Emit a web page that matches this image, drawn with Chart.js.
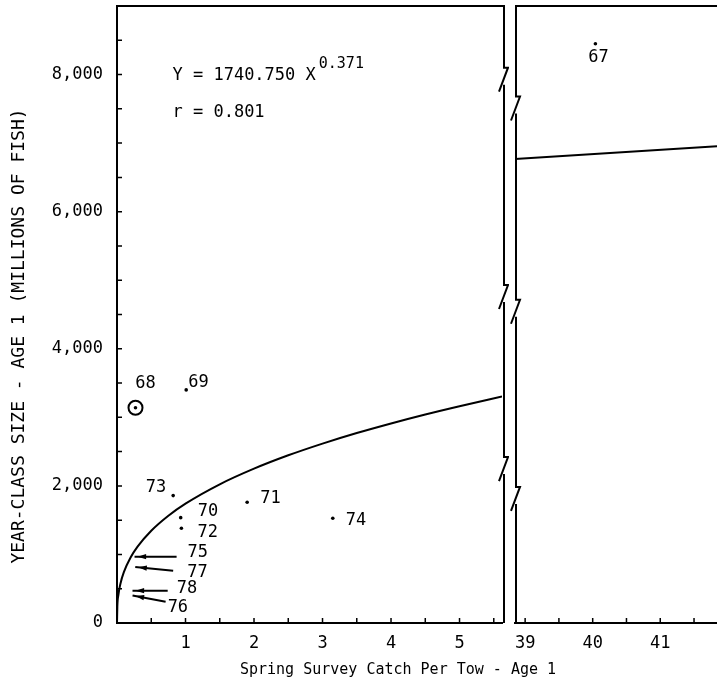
<!DOCTYPE html>
<html><head><meta charset="utf-8">
<script src="https://cdn.jsdelivr.net/npm/chart.js@4/dist/chart.umd.min.js"></script>
<style>
html,body{margin:0;padding:0;background:#fff;}
#wrap{position:relative;width:717px;height:687px;overflow:hidden;background:#fff;}
#c1{position:absolute;left:0;top:0;}
#c2{position:absolute;left:509px;top:0;}
#xt{position:absolute;left:0;width:796px;top:660px;text-align:center;font:15px "DejaVu Sans Mono",monospace;color:#000;white-space:nowrap;}
</style></head>
<body><div id="wrap">
<canvas id="c1" width="509" height="687"></canvas>
<canvas id="c2" width="208" height="687"></canvas>
<div id="xt">Spring Survey Catch Per Tow - Age 1</div>
</div>
<script>
// ---- data ----
const years         = ['67', '68', '69', '70', '71', '72', '73', '74'];
const catchPerTow   = [40.04, 0.27, 1.01, 0.93, 1.90, 0.94, 0.82, 3.15];
const yearClassSize = [8450, 3140, 3400, 1537, 1762, 1382, 1858, 1528];
const circledYears  = ['68'];

const arrowYears = ['75', '77', '78', '76'];
const arrowTailX = [0.87, 0.82, 0.74, 0.71];
const arrowHeadX = [0.30, 0.31, 0.27, 0.27];
const arrowTailY = [968, 763, 472, 311];
const arrowHeadY = [968, 813, 472, 394];

// fitted curve Y = 1740.750 X^0.371 as drawn
const fitX = [0, 0.005, 0.02, 0.05, 0.1, 0.2, 0.3, 0.5, 0.75, 1, 1.5, 2, 2.5, 3, 3.5, 4, 4.5, 5, 5.62];
const fitY = [0, 244, 408, 573, 741, 958, 1114, 1346, 1565, 1741, 2023, 2251, 2446, 2617, 2771, 2911, 3042, 3163, 3303];
const fitRightX = [38.85, 41.84];
const fitRightY = [6767, 6956];

const leftXRange  = [0, 5.62];
const rightXRange = [38.85, 41.84];
const yRange      = [0, 9000];
const yTickValues = [0, 2000, 4000, 6000, 8000];
const yTickLabels = ['0', '2,000', '4,000', '6,000', '8,000'];
const leftXTickValues  = [1, 2, 3, 4, 5];
const rightXTickValues = [39, 40, 41];

const equationText = 'Y = 1740.750 X';
const equationExp  = '0.371';
const rText        = 'r = 0.801';
const yTitle       = 'YEAR-CLASS SIZE - AGE 1 (MILLIONS OF FISH)';

// ---- styling ----
const FONT = '"DejaVu Sans Mono", monospace';
const labelStyle = {
  '67': {dx: 3,  dy: 14, align: 'center'},
  '68': {dx: 10, dy: -24, align: 'center'},
  '69': {dx: 2,  dy: -7, align: 'left'},
  '70': {dx: 17, dy: -6, align: 'left'},
  '71': {dx: 13, dy: -4, align: 'left'},
  '72': {dx: 16, dy: 4,  align: 'left'},
  '73': {dx: -7, dy: -8, align: 'right'},
  '74': {dx: 13, dy: 2,  align: 'left'}
};
const arrowLabelStyle = {
  '75': {dx: 11, dy: -4},
  '77': {dx: 14, dy: 2},
  '78': {dx: 9,  dy: -2},
  '76': {dx: 2,  dy: 6}
};
const leftBreaks  = [8100, 4930, 2420];
const rightBreaks = [7680, 4715, 1985];

function pts(xs, ys) { return xs.map((x, i) => ({x: x, y: ys[i]})); }
function inRange(x, r) { return x >= r[0] && x <= r[1]; }

function drawBrokenVertical(ctx, x, top, bottom, breaksPx) {
  const h = 24;
  const b = breaksPx.slice().sort((p, q) => p - q);
  ctx.beginPath();
  let y0 = top;
  b.forEach(yb => {
    ctx.moveTo(x, y0); ctx.lineTo(x, yb);
    ctx.moveTo(x - 1, yb); ctx.lineTo(x + 4, yb); ctx.lineTo(x - 5, yb + h);
    y0 = yb + h - 7;
  });
  ctx.moveTo(x, y0); ctx.lineTo(x, bottom);
  ctx.stroke();
}

function drawPointLabels(chart, range) {
  const {ctx, scales: {x: sx, y: sy}} = chart;
  ctx.font = '17px ' + FONT;
  ctx.fillStyle = '#000';
  ctx.textBaseline = 'middle';
  years.forEach((yr, i) => {
    if (!inRange(catchPerTow[i], range)) return;
    const st = labelStyle[yr];
    const px = sx.getPixelForValue(catchPerTow[i]);
    const py = sy.getPixelForValue(yearClassSize[i]);
    ctx.textAlign = st.align;
    ctx.fillText(yr, px + st.dx, py + st.dy);
  });
}

function drawInwardTicks(ctx, a, sx, sy, xStart, xEnd, yStart, yEnd, doY) {
  ctx.lineWidth = 1.5;
  ctx.beginPath();
  for (let v = xStart; v <= xEnd + 1e-9; v += 0.5) {
    const p = sx.getPixelForValue(v);
    if (p < a.left + 2 || p > a.right - 2) continue;
    ctx.moveTo(p, a.bottom); ctx.lineTo(p, a.bottom - 5);
  }
  if (doY) {
    for (let v = yStart; v <= yEnd; v += 500) {
      const p = sy.getPixelForValue(v);
      ctx.moveTo(a.left, p); ctx.lineTo(a.left + 5, p);
    }
  }
  ctx.stroke();
}

const leftDecor = {
  id: 'leftDecor',
  afterDraw(chart) {
    const {ctx, chartArea: a, scales: {x: sx, y: sy}} = chart;
    ctx.save();
    ctx.strokeStyle = '#000';
    ctx.lineWidth = 2;
    ctx.beginPath(); ctx.moveTo(a.left - 1, a.top); ctx.lineTo(a.right + 3, a.top); ctx.stroke();
    drawBrokenVertical(ctx, a.right + 2, a.top, a.bottom, leftBreaks.map(v => sy.getPixelForValue(v)));
    drawInwardTicks(ctx, a, sx, sy, 0.5, 5.5, 500, 8500, true);

    // arrows
    ctx.lineWidth = 2;
    ctx.fillStyle = '#000';
    arrowYears.forEach((yr, i) => {
      const tx = sx.getPixelForValue(arrowTailX[i]), ty = sy.getPixelForValue(arrowTailY[i]);
      const hx = sx.getPixelForValue(arrowHeadX[i]), hy = sy.getPixelForValue(arrowHeadY[i]);
      const ang = Math.atan2(hy - ty, hx - tx);
      ctx.beginPath(); ctx.moveTo(tx, ty); ctx.lineTo(hx + 3 * Math.cos(ang), hy + 3 * Math.sin(ang)); ctx.stroke();
      ctx.beginPath();
      ctx.moveTo(hx, hy);
      ctx.lineTo(hx - 9 * Math.cos(ang - 0.3), hy - 9 * Math.sin(ang - 0.3));
      ctx.lineTo(hx - 9 * Math.cos(ang + 0.3), hy - 9 * Math.sin(ang + 0.3));
      ctx.closePath(); ctx.fill();
      const st = arrowLabelStyle[yr];
      ctx.font = '17px ' + FONT;
      ctx.textAlign = 'left'; ctx.textBaseline = 'middle';
      ctx.fillText(yr, tx + st.dx, ty + st.dy);
    });

    drawPointLabels(chart, leftXRange);

    // equation
    ctx.fillStyle = '#000';
    ctx.textAlign = 'left'; ctx.textBaseline = 'middle';
    ctx.font = '17px ' + FONT;
    const ex = sx.getPixelForValue(0.81), ey = sy.getPixelForValue(7990);
    ctx.fillText(equationText, ex, ey);
    const w = ctx.measureText(equationText).width;
    ctx.font = '15px ' + FONT;
    ctx.fillText(equationExp, ex + w + 3, ey - 11);
    ctx.font = '17px ' + FONT;
    ctx.fillText(rText, ex, sy.getPixelForValue(7440));

    // y title
    ctx.save();
    ctx.translate(19, 336);
    ctx.rotate(-Math.PI / 2);
    ctx.font = '18px ' + FONT;
    ctx.textAlign = 'center'; ctx.textBaseline = 'middle';
    ctx.fillText(yTitle, 0, 0);
    ctx.restore();
    ctx.restore();
  }
};

const rightDecor = {
  id: 'rightDecor',
  afterDraw(chart) {
    const {ctx, chartArea: a, scales: {x: sx, y: sy}} = chart;
    ctx.save();
    ctx.strokeStyle = '#000';
    ctx.lineWidth = 2;
    ctx.beginPath(); ctx.moveTo(a.left, a.top); ctx.lineTo(a.right, a.top); ctx.stroke();
    drawBrokenVertical(ctx, a.left + 1, a.top, a.bottom, rightBreaks.map(v => sy.getPixelForValue(v)));
    drawInwardTicks(ctx, a, sx, sy, 39, 41.5, 0, 0, false);
    drawPointLabels(chart, rightXRange);
    ctx.restore();
  }
};

const tickFont = {family: FONT, size: 17};

function noPad(s) { s.paddingTop = 0; s.paddingBottom = 0; s.paddingLeft = 0; s.paddingRight = 0; }

function makeChart(id, xRange, xTickValues, fitData, showY, padding, plugin) {
  const scatterData = [];
  const circled = [];
  years.forEach((yr, i) => {
    if (!inRange(catchPerTow[i], xRange)) return;
    scatterData.push({x: catchPerTow[i], y: yearClassSize[i]});
    if (circledYears.includes(yr)) circled.push({x: catchPerTow[i], y: yearClassSize[i]});
  });
  return new Chart(document.getElementById(id), {
    type: 'scatter',
    data: {
      datasets: [
        {data: fitData, showLine: true, borderColor: '#000', borderWidth: 2, pointRadius: 0,
         cubicInterpolationMode: 'monotone', fill: false},
        {data: scatterData, pointRadius: 1.8, pointBackgroundColor: '#000', pointBorderWidth: 0},
        {data: circled, pointRadius: 7, pointBackgroundColor: 'rgba(0,0,0,0)', pointBorderColor: '#000', pointBorderWidth: 2}
      ]
    },
    options: {
      responsive: false,
      animation: false,
      devicePixelRatio: 1,
      layout: {padding: padding, autoPadding: false},
      plugins: {legend: {display: false}, tooltip: {enabled: false}, title: {display: false}},
      scales: {
        x: {
          type: 'linear', min: xRange[0], max: xRange[1],
          grid: {display: false, drawTicks: false},
          border: {display: true, color: '#000', width: 2},
          ticks: {padding: 10, color: '#000', font: tickFont, maxRotation: 0, autoSkip: false,
                  callback: v => String(v)},
          afterBuildTicks: s => { s.ticks = xTickValues.map(v => ({value: v})); },
          afterFit: s => { s.height = 64; noPad(s); }
        },
        y: {
          type: 'linear', min: yRange[0], max: yRange[1],
          display: showY,
          grid: {display: false, drawTicks: false},
          border: {display: true, color: '#000', width: 2},
          ticks: {autoSkip: false, padding: 14, color: '#000', font: tickFont,
                  callback: v => { const k = yTickValues.indexOf(v); return k >= 0 ? yTickLabels[k] : ''; }},
          afterBuildTicks: s => { s.ticks = yTickValues.map(v => ({value: v})); },
          afterFit: s => { if (showY) s.width = 117; noPad(s); }
        }
      }
    },
    plugins: [plugin]
  });
}

makeChart('c1', leftXRange, leftXTickValues, pts(fitX, fitY), true, {top: 6, right: 7, left: 0, bottom: 0}, leftDecor);
makeChart('c2', rightXRange, rightXTickValues, pts(fitRightX, fitRightY), false, {top: 6, right: 0, left: 6, bottom: 0}, rightDecor);
</script>
</body></html>
